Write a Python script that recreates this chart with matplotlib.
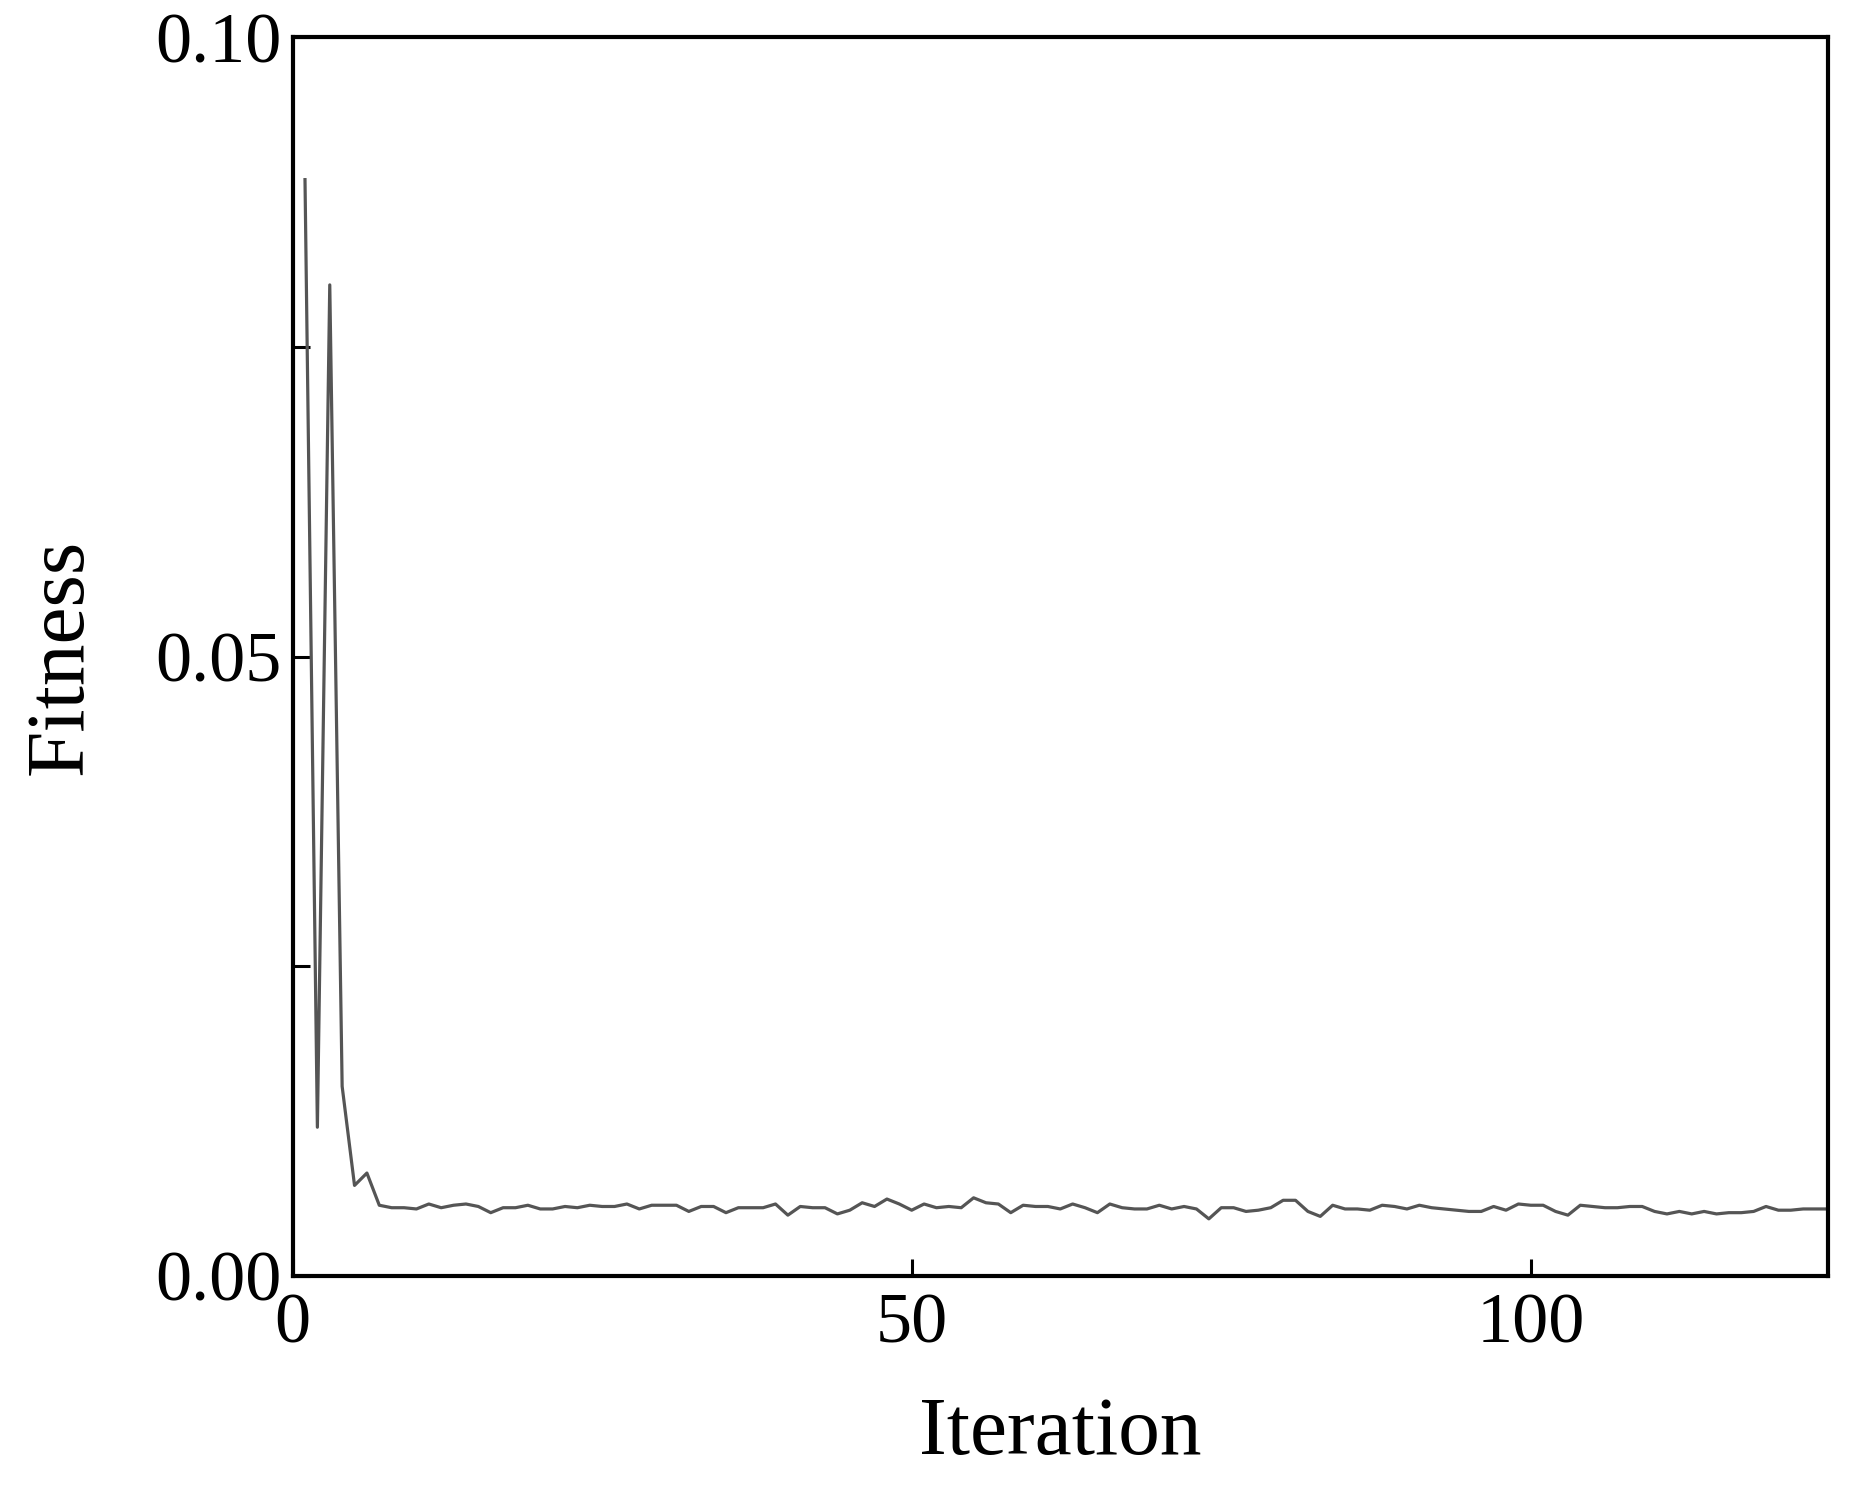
import matplotlib
matplotlib.use("Agg")
import matplotlib.pyplot as plt
from matplotlib.ticker import MultipleLocator

iterations = list(range(1, 125))
early = [0.0885, 0.0120, 0.0800, 0.0153, 0.0073, 0.0083, 0.0057]
tail = [0.0055, 0.0055, 0.0054, 0.0058, 0.0055, 0.0057, 0.0058, 0.0056, 0.0051, 0.0055,
        0.0055, 0.0057, 0.0054, 0.0054, 0.0056, 0.0055, 0.0057, 0.0056, 0.0056, 0.0058,
        0.0054, 0.0057, 0.0057, 0.0057, 0.0052, 0.0056, 0.0056, 0.0051, 0.0055, 0.0055,
        0.0055, 0.0058, 0.0049, 0.0056, 0.0055, 0.0055, 0.0050, 0.0053, 0.0059, 0.0056,
        0.0062, 0.0058, 0.0053, 0.0058, 0.0055, 0.0056, 0.0055, 0.0063, 0.0059, 0.0058,
        0.0051, 0.0057, 0.0056, 0.0056, 0.0054, 0.0058, 0.0055, 0.0051, 0.0058, 0.0055,
        0.0054, 0.0054, 0.0057, 0.0054, 0.0056, 0.0054, 0.0046, 0.0055, 0.0055, 0.0052,
        0.0053, 0.0055, 0.0061, 0.0061, 0.0052, 0.0048, 0.0057, 0.0054, 0.0054, 0.0053,
        0.0057, 0.0056, 0.0054, 0.0057, 0.0055, 0.0054, 0.0053, 0.0052, 0.0052, 0.0056,
        0.0053, 0.0058, 0.0057, 0.0057, 0.0052, 0.0049, 0.0057, 0.0056, 0.0055, 0.0055,
        0.0056, 0.0056, 0.0052, 0.0050, 0.0052, 0.0050, 0.0052, 0.0050, 0.0051, 0.0051,
        0.0052, 0.0056, 0.0053, 0.0053, 0.0054, 0.0054, 0.0054]
fitness = early + tail

plt.rcParams['font.family'] = ['Liberation Serif', 'DejaVu Serif']
fig = plt.figure(figsize=(18.52, 14.87), dpi=100)
ax = fig.add_axes([0.158, 0.142, 0.829, 0.833])
ax.plot(iterations, fitness, color='#555555', linewidth=2.3)
ax.set_xlim(0, 124)
ax.set_ylim(0, 0.10)
ax.set_xticks([0, 50, 100])
ax.set_yticks([0.00, 0.05, 0.10])
ax.set_yticklabels(['0.00', '0.05', '0.10'])
ax.yaxis.set_minor_locator(MultipleLocator(0.025))
ax.tick_params(which='both', direction='in', labelsize=52, width=2.2)
ax.tick_params(which='major', length=12)
ax.tick_params(which='minor', length=12)
ax.tick_params(axis='x', pad=12)
ax.tick_params(axis='y', pad=8)
for s in ax.spines.values():
    s.set_linewidth(3)
ax.set_xlabel('Iteration', fontsize=60, labelpad=28)
ax.set_ylabel('Fitness', fontsize=60, labelpad=40)
fig.savefig('out.png', dpi=100)
